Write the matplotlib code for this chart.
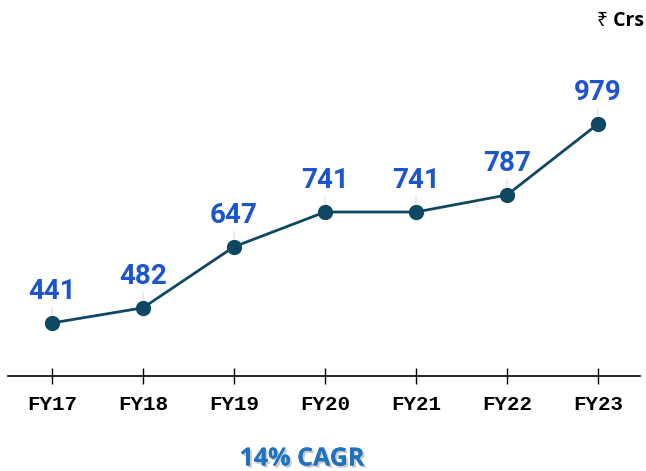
import matplotlib
matplotlib.use('Agg')
import matplotlib.pyplot as plt
import matplotlib.patheffects as pe

''' chart data '''
years = ['FY17', 'FY18', 'FY19', 'FY20', 'FY21', 'FY22', 'FY23']
revenue = [441, 482, 647, 741, 741, 787, 979]
unit_label = '\u20b9 Crs'
cagr_label = '14% CAGR'

line_color = '#0E4863'
label_color = '#1D56CC'
cagr_color = '#1F72BE'

fig = plt.figure(figsize=(6.46, 4.71), dpi=100)
ax = fig.add_axes([8 / 646, 95 / 471, 632 / 646, 376 / 471])

x = list(range(len(years)))
ax.plot(x, revenue, color=line_color, lw=2, marker='o', ms=10, zorder=3)

for xi, v in zip(x, revenue):
    ax.annotate(str(v), xy=(xi, v), xytext=(0, 13), textcoords='offset points',
                ha='center', va='bottom', fontsize=20, fontweight='bold',
                family=['Roboto', 'DejaVu Sans'], color=label_color,
                arrowprops=dict(arrowstyle='-', color='#E2E2E2', lw=1,
                                shrinkA=0, shrinkB=6))

ax.set_xlim(-0.4835, 6.4615)
ax.set_ylim(297.7, 1314)
ax.set_xticks(x)
ax.set_xticklabels(years, family=['Liberation Mono', 'DejaVu Sans Mono'],
                   fontsize=15, fontweight='bold')
ax.tick_params(axis='x', direction='inout', length=12, width=1, pad=8)
ax.set_yticks([])
for s in ['top', 'right', 'left']:
    ax.spines[s].set_visible(False)
ax.spines['bottom'].set_linewidth(1.2)

fig.text(644 / 646, 1 - 21 / 471, unit_label, ha='right', va='center',
         fontsize=14, fontweight='bold', family=['Open Sans', 'Noto Sans', 'DejaVu Sans'])

fig.text(302 / 646, 1 - 459 / 471, cagr_label, ha='center', va='center',
         fontsize=18, fontweight='bold', color=cagr_color,
         family=['Open Sans', 'DejaVu Sans'],
         path_effects=[pe.withSimplePatchShadow(offset=(1.5, -1.5), shadow_rgbFace='#999999', alpha=0.5),
                       pe.Normal()])

fig.savefig('out.png', dpi=100)
